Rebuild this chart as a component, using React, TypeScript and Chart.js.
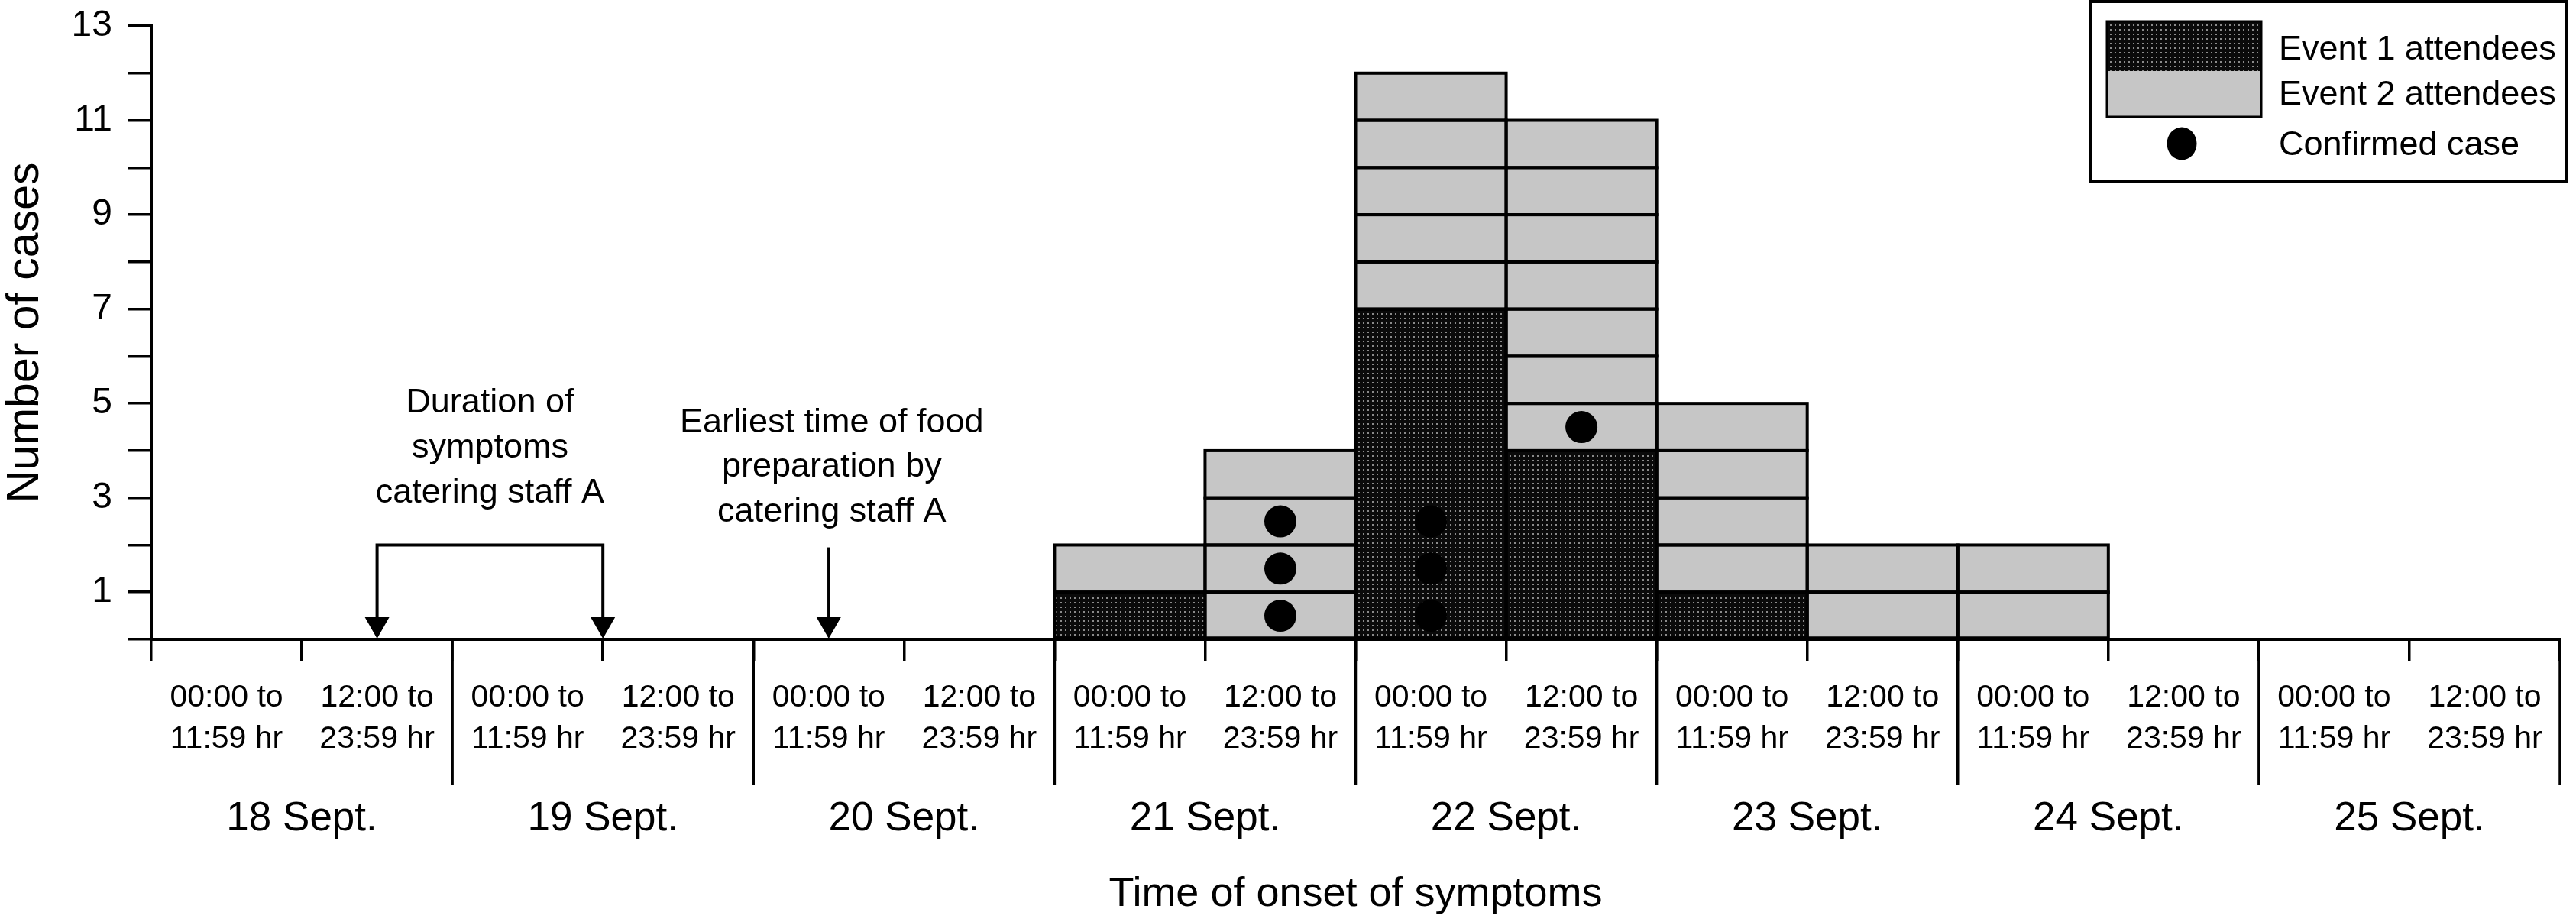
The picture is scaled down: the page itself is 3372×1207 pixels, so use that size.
import React, { useEffect, useRef } from 'react';
import { Chart, registerables } from 'chart.js';

Chart.register(...registerables);

// ---------- data ----------
const days = ['18 Sept.', '19 Sept.', '20 Sept.', '21 Sept.', '22 Sept.', '23 Sept.', '24 Sept.', '25 Sept.'];
const halfDayLabels = [
  ['00:00 to', '11:59 hr'],
  ['12:00 to', '23:59 hr'],
];
// cases per half-day bin (18 Sept AM ... 25 Sept PM)
const event1Cases = [0, 0, 0, 0, 0, 0, 1, 0, 7, 4, 1, 0, 0, 0, 0, 0];
const event2Cases = [0, 0, 0, 0, 0, 0, 1, 4, 5, 7, 4, 2, 2, 0, 0, 0];
// confirmed cases: half-day bin index and case row (1 = lowest case in the bar)
const confirmedBins = [7, 7, 7, 8, 8, 8, 9];
const confirmedRows = [1, 2, 3, 1, 2, 3, 5];
const yTickValues = [1, 3, 5, 7, 9, 11, 13];
const yMax = 13;
// annotations, hours after 18 Sept 00:00
const symptomStartHour = 18;
const symptomEndHour = 36;
const foodPrepHour = 54;
const annotationLevel = 2;
const symptomText = ['Duration of', 'symptoms', 'catering staff A'];
const foodText = ['Earliest time of food', 'preparation by', 'catering staff A'];
const legendLabels = ['Event 1 attendees', 'Event 2 attendees', 'Confirmed case'];
const xTitle = 'Time of onset of symptoms';
const yTitle = 'Number of cases';

const FONT = "'Liberation Sans', Arial, Helvetica, sans-serif";
const GREY = '#c6c6c6';

function makePattern(): CanvasPattern | string {
  const c = document.createElement('canvas');
  c.width = 6;
  c.height = 6;
  const g = c.getContext('2d');
  if (!g) return '#1a1a1a';
  g.fillStyle = '#0a0a0a';
  g.fillRect(0, 0, 6, 6);
  g.fillStyle = '#8a8a8a';
  g.fillRect(2, 2, 2, 2);
  const p = g.createPattern(c, 'repeat');
  return p || '#1a1a1a';
}

export default function App() {
  const ref = useRef<HTMLCanvasElement | null>(null);

  useEffect(() => {
    const canvas = ref.current;
    if (!canvas) return;
    Chart.defaults.font.family = FONT;
    Chart.defaults.color = '#000';
    const pattern = makePattern();

    const categories = days.flatMap(() => halfDayLabels.map((l) => l.slice()));
    const bins = event1Cases.length;

    const datasets: any[] = [];
    datasets.push({
      type: 'scatter',
      label: legendLabels[2],
      data: confirmedBins.map((b, i) => ({ x: b, y: confirmedRows[i] - 0.5 })),
      xAxisID: 'xd',
      yAxisID: 'yd',
      pointRadius: 21,
      pointHoverRadius: 21,
      pointStyle: 'circle',
      backgroundColor: '#000',
      borderWidth: 0,
      order: 0,
    });
    datasets.push({
      type: 'bar',
      label: legendLabels[0],
      data: event1Cases.map((v) => (v > 0 ? v : null)),
      backgroundColor: pattern,
      borderWidth: 0,
      stack: 'cases',
      grouped: false,
      xAxisID: 'x',
      yAxisID: 'y',
      order: 1,
    });
    const maxE2 = Math.max(...event2Cases);
    for (let j = 0; j < maxE2; j++) {
      datasets.push({
        type: 'bar',
        label: legendLabels[1],
        data: event2Cases.map((v) => (v > j ? 1 : null)),
        backgroundColor: GREY,
        borderWidth: 0,
        stack: 'cases',
        grouped: false,
        xAxisID: 'x',
        yAxisID: 'y',
        order: 1,
      });
    }

    const outlinePlugin = {
      id: 'caseOutlines',
      afterDatasetsDraw(chart: any) {
        const ctx = chart.ctx;
        ctx.save();
        ctx.strokeStyle = '#000';
        ctx.lineWidth = 4;
        chart.data.datasets.forEach((ds: any, i: number) => {
          const meta = chart.getDatasetMeta(i);
          if (meta.type !== 'bar') return;
          meta.data.forEach((el: any, j: number) => {
            if (ds.data[j] == null) return;
            const { x, y, base, width } = el.getProps(['x', 'y', 'base', 'width'], true);
            ctx.strokeRect(x - width / 2, Math.min(y, base), width, Math.abs(base - y));
          });
        });
        ctx.restore();
      },
    };

    const decorPlugin = {
      id: 'decor',
      afterDraw(chart: any) {
        const ctx = chart.ctx;
        const xd = chart.scales.xd;
        const ys = chart.scales.y;
        const xs = chart.scales.x;
        const ca = chart.chartArea;
        ctx.save();
        ctx.strokeStyle = '#000';
        ctx.fillStyle = '#000';

        // day separators (long ticks)
        ctx.lineWidth = 3.5;
        for (let d = 1; d <= days.length; d++) {
          const px = xd.getPixelForValue(d * 2 - 0.5);
          ctx.beginPath();
          ctx.moveTo(px, ca.bottom);
          ctx.lineTo(px, xs.bottom);
          ctx.stroke();
        }

        // annotations
        const hx = (h: number) => xd.getPixelForValue(h / 12 - 0.5);
        const y0 = ys.getPixelForValue(0);
        const head = 29;
        const arrowHead = (x: number) => {
          ctx.beginPath();
          ctx.moveTo(x - 16, y0 - head);
          ctx.lineTo(x + 16, y0 - head);
          ctx.lineTo(x, y0 - 1);
          ctx.closePath();
          ctx.fill();
        };
        const xa = hx(symptomStartHour);
        const xb = hx(symptomEndHour);
        const yb = ys.getPixelForValue(annotationLevel);
        ctx.lineWidth = 4;
        ctx.beginPath();
        ctx.moveTo(xa, y0 - head + 2);
        ctx.lineTo(xa, yb);
        ctx.lineTo(xb, yb);
        ctx.lineTo(xb, y0 - head + 2);
        ctx.stroke();
        arrowHead(xa);
        arrowHead(xb);

        const xf = hx(foodPrepHour);
        const yf = ys.getPixelForValue(annotationLevel - 0.05);
        ctx.lineWidth = 3.5;
        ctx.beginPath();
        ctx.moveTo(xf, yf);
        ctx.lineTo(xf, y0 - head + 2);
        ctx.stroke();
        arrowHead(xf);

        ctx.font = `45px ${FONT}`;
        ctx.textAlign = 'center';
        ctx.textBaseline = 'alphabetic';
        const cx = (xa + xb) / 2;
        symptomText.forEach((t, i) => ctx.fillText(t, cx, yb - 173 + i * 59));
        foodText.forEach((t, i) => ctx.fillText(t, xf + 4, yf - 151 + i * 58.5));

        // legend
        ctx.lineWidth = 4;
        ctx.strokeRect(2737, 2, 623, 235.5);
        const sx = 2758, sw = 202;
        ctx.fillStyle = pattern as any;
        ctx.fillRect(sx, 28, sw, 65);
        ctx.fillStyle = GREY;
        ctx.fillRect(sx, 93, sw, 60);
        ctx.lineWidth = 3;
        ctx.strokeRect(sx, 28, sw, 125);
        ctx.fillStyle = '#000';
        ctx.beginPath();
        ctx.ellipse(2856, 188, 19.5, 21.5, 0, 0, Math.PI * 2);
        ctx.fill();
        ctx.textAlign = 'left';
        const baselines = [78, 137, 203];
        legendLabels.forEach((t, i) => ctx.fillText(t, 2983, baselines[i]));

        ctx.restore();
      },
    };

    const chart = new Chart(canvas, {
      type: 'bar',
      data: { labels: categories, datasets },
      options: {
        responsive: false,
        maintainAspectRatio: false,
        animation: false,
        devicePixelRatio: 1,
        layout: { padding: { top: 34, right: 17, left: 0, bottom: 0 } },
        datasets: { bar: { barPercentage: 1, categoryPercentage: 1, grouped: false } },
        plugins: { legend: { display: false }, tooltip: { enabled: false }, title: { display: false } },
        scales: {
          x: {
            type: 'category',
            position: 'bottom',
            offset: true,
            stacked: true,
            z: 1,
            weight: 0,
            grid: { offset: true, drawOnChartArea: false, drawTicks: true, tickLength: 28, color: '#000', lineWidth: 3.5 },
            border: { display: true, color: '#000', width: 4 },
            ticks: { autoSkip: false, maxRotation: 0, minRotation: 0, padding: 22, color: '#000', font: { size: 41, lineHeight: 54 / 41 } },
            afterFit: (s: any) => { s.height = 190; },
          },
          x2: {
            type: 'category',
            labels: days,
            position: 'bottom',
            offset: true,
            weight: 1,
            grid: { display: false, offset: true },
            border: { display: false },
            ticks: { autoSkip: false, maxRotation: 0, minRotation: 0, padding: 6, color: '#000', font: { size: 53 } },
            title: { display: true, text: xTitle, color: '#000', font: { size: 54 }, padding: { top: 0, bottom: 3 } },
            afterFit: (s: any) => { s.height = 180; },
          },
          xd: { type: 'linear', display: false, offset: false, grid: { offset: false }, min: -0.5, max: bins - 0.5 },
          y: {
            type: 'linear',
            position: 'left',
            stacked: true,
            min: 0,
            max: yMax,
            z: 1,
            grid: { drawOnChartArea: false, drawTicks: true, tickLength: 30, color: '#000', lineWidth: 3.5 },
            border: { display: true, color: '#000', width: 4 },
            ticks: {
              stepSize: 1,
              autoSkip: false,
              padding: 21,
              color: '#000',
              font: { size: 48 },
              callback: (v: any) => (yTickValues.includes(Number(v)) ? String(v) : ''),
            },
            title: { display: true, text: yTitle, color: '#000', font: { size: 59, lineHeight: 1 }, padding: { top: 4, bottom: 0 } },
            afterFit: (s: any) => {
              s.width = 198;
              s.paddingTop = 29;
              s.paddingBottom = 29;
            },
          },
          yd: { type: 'linear', display: false, min: 0, max: yMax },
        },
      } as any,
      plugins: [outlinePlugin, decorPlugin],
    });

    return () => chart.destroy();
  }, []);

  return (
    <div style={{ position: 'fixed', left: 0, top: 0, width: 3372, height: 1207, background: '#fff' }}>
      <canvas ref={ref} width={3372} height={1207} style={{ display: 'block', width: 3372, height: 1207 }} />
    </div>
  );
}
